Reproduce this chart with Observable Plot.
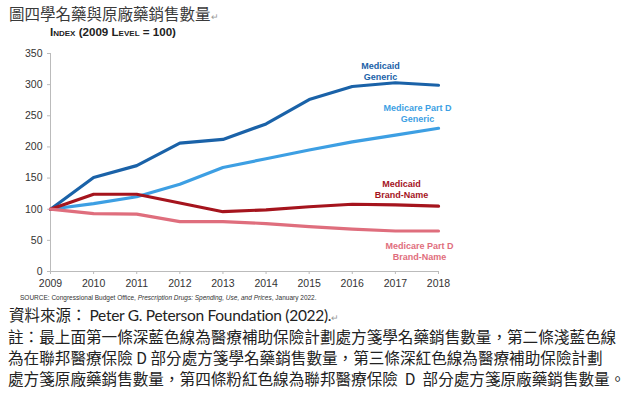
<!DOCTYPE html>
<html><head><meta charset="utf-8">
<script src="https://cdn.jsdelivr.net/npm/d3@7"></script>
<script src="https://cdn.jsdelivr.net/npm/@observablehq/plot@0.6"></script>
<style>
html,body{margin:0;padding:0;background:#fff;width:640px;height:393px;overflow:hidden;}
#wrap{position:relative;width:640px;height:393px;}
.abs{position:absolute;white-space:nowrap;}
#title{left:9px;top:2px;font:15.5px "Noto Sans CJK TC";color:#3a3a3a;}
#sub{left:50px;top:25px;font:bold 11.6px "Liberation Sans";font-variant:small-caps;color:#222;}
#chart{position:absolute;left:0;top:40px;}
#src{left:20px;top:294px;font:6.5px "Liberation Sans";color:#333;}
#ref{left:9px;top:303px;font:15.5px "Noto Sans CJK TC";color:#222;}
#ref .lat{font-family:"Lato";font-size:15.5px;margin-left:3px;letter-spacing:-0.3px;}
.note{left:8px;font:15.6px "Noto Sans CJK TC";color:#222;}
</style></head><body><div id="wrap">
<div id="title" class="abs">圖四學名藥與原廠藥銷售數量<span style="font-size:9px;color:#999">↵</span></div>
<div id="sub" class="abs">Index (2009 Level = 100)</div>
<div id="chart"></div>
<div id="src" class="abs">SOURCE: Congressional Budget Office, <i>Prescription Drugs: Spending, Use, and Prices</i>, January 2022.</div>
<div id="ref" class="abs">資料來源：<span class="lat">Peter G. Peterson Foundation (2022).</span><span style="font-size:9px;color:#999">↵</span></div>
<div class="abs note" style="top:325px">註：最上面第一條深藍色線為醫療補助保險計劃處方箋學名藥銷售數量，第二條淺藍色線</div>
<div class="abs note" style="top:346px">為在聯邦醫療保險 D 部分處方箋學名藥銷售數量，第三條深紅色線為醫療補助保險計劃</div>
<div class="abs note" style="top:367px">處方箋原廠藥銷售數量，第四條粉紅色線為聯邦醫療保險&nbsp; D&nbsp; 部分處方箋原廠藥銷售數量。</div>
</div>
<script>
const years = [2009,2010,2011,2012,2013,2014,2015,2016,2017,2018];
const medicaidGeneric = [100,151,170,206,212,237,276,297,303,299];
const partDGeneric = [100,109,120,140,167,181,195,208,219,230];
const medicaidBrand = [100,124,124,110,96,99,104,108,107,105];
const partDBrand = [100,93,92,80,80,77,72,68,65,65];
const seriesNames = ["Medicaid\nGeneric","Medicare Part D\nGeneric","Medicaid\nBrand-Name","Medicare Part D\nBrand-Name"];
const seriesColors = ["#1a62a8","#3d9fe3","#a5141d","#df6e7d"];
const seriesValues = [medicaidGeneric, partDGeneric, medicaidBrand, partDBrand];
const yTicks = [0,50,100,150,200,250,300,350];

const rows = [];
seriesValues.forEach((vals,i)=>vals.forEach((v,j)=>rows.push({s:seriesNames[i],year:years[j],v})));
const last = seriesNames.map((s,i)=>({s,year:2018,v:seriesValues[i][9],c:seriesColors[i]}));
const offs = [[-58,-14],[-21,-15],[-37,-17],[-19,20]];

const plot = Plot.plot({
  width:640, height:255,
  marginLeft:50, marginRight:202, marginTop:13, marginBottom:24,
  style:{fontFamily:"Liberation Sans", fontSize:"10.5px", color:"#333", background:"transparent"},
  x:{domain:[2009,2018], ticks:years, tickFormat:d=>String(d), label:null},
  y:{domain:[0,350], ticks:yTicks, label:null},
  color:{domain:seriesNames, range:seriesColors},
  marks:[
    Plot.ruleX([2009],{stroke:"#bbb"}),
    Plot.ruleY([0],{stroke:"#bbb"}),
    Plot.axisX({ticks:years, tickSize:3, tickPadding:5, stroke:"#bbb", tickFormat:d=>String(d), label:null}),
    Plot.axisY({ticks:yTicks, tickSize:3, tickPadding:5, stroke:"#bbb", label:null}),
    Plot.line(rows,{x:"year",y:"v",z:"s",stroke:"s",strokeWidth:3.2,strokeLinejoin:"round"}),
    ...last.map((d,i)=>Plot.text([d],{x:"year",y:"v",text:"s",fill:d.c,dx:offs[i][0],dy:offs[i][1],
      fontSize:9,fontWeight:"bold",lineHeight:1.2,textAnchor:"middle"}))
  ]
});
document.getElementById("chart").appendChild(plot);
</script></body></html>
